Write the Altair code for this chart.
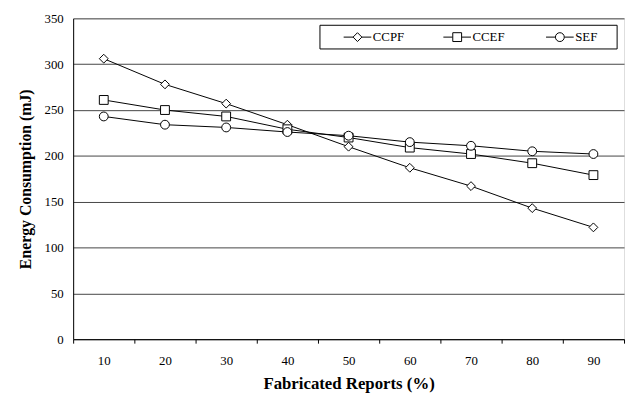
import altair as alt
import pandas as pd

reports = [10, 20, 30, 40, 50, 60, 70, 80, 90]
series_names = ["CCPF", "CCEF", "SEF"]
ccpf = [306, 278, 257, 234, 210, 187, 167, 143, 122]
ccef = [261, 250, 243, 229, 220, 209, 202, 192, 179]
sef = [243, 234, 231, 226, 222, 215, 211, 205, 202]
shapes = ["diamond", "square", "circle"]
y_ticks = [0, 50, 100, 150, 200, 250, 300, 350]

rows = []
for name, vals in zip(series_names, [ccpf, ccef, sef]):
    for r, v in zip(reports, vals):
        rows.append({"report": r, "energy": v, "series": name})
df = pd.DataFrame(rows)

FONT = "Liberation Serif"

# legend entry positions (plot coordinates): start of each "-o-" symbol
legend_starts = [274, 375, 479]
legend_y = 4.5

x_enc = alt.X(
    "report:O",
    scale=alt.Scale(type="band", paddingInner=0, paddingOuter=0),
    axis=alt.Axis(
        title="Fabricated Reports (%)",
        labelAngle=0,
        tickBand="extent",
        tickSize=4,
        tickColor="black",
        labelPadding=12,
        domainColor="black",
        labelFont=FONT,
        labelFontSize=13,
        labelColor="black",
        titleFont=FONT,
        titleFontSize=17,
        titleFontWeight="bold",
        titleColor="black",
        titlePadding=8,
        grid=False,
    ),
)
y_enc = alt.Y(
    "energy:Q",
    scale=alt.Scale(domain=[0, 350], nice=False),
    axis=alt.Axis(
        title="Energy Consumption (mJ)",
        values=y_ticks,
        grid=True,
        gridColor="#444444",
        gridOpacity=1,
        ticks=False,
        tickSize=0,
        labelPadding=10,
        domainColor="black",
        labelFont=FONT,
        labelFontSize=13,
        labelColor="black",
        titleFont=FONT,
        titleFontSize=16,
        titleFontWeight="bold",
        titleColor="black",
        titlePadding=11,
    ),
)

box = alt.Chart(pd.DataFrame({"a": [0]})).mark_rect(
    fill="white", stroke="black", strokeWidth=1
).encode(x=alt.value(250), x2=alt.value(551), y=alt.value(7), y2=alt.value(31))

layers = [box]
line_layers = []
point_layers = []
for name, shp, lx in zip(series_names, shapes, legend_starts):
    sub = df[df["series"] == name]
    line_layers.append(
        alt.Chart(sub).mark_line(strokeWidth=1).encode(
            x=x_enc,
            y=y_enc,
            order="report:O",
            color=alt.Color(
                "series:N",
                scale=alt.Scale(domain=[name], range=["black"]),
                legend=alt.Legend(
                    title=None,
                    orient="none",
                    legendX=lx - 0.5,
                    legendY=legend_y,
                    padding=0,
                    symbolType="stroke",
                    symbolSize=784,
                    symbolStrokeWidth=1,
                    symbolStrokeColor="black",
                    symbolDash=[9.5, 9],
                    labelFont=FONT,
                    labelFontSize=13,
                    labelColor="black",
                    labelOffset=1,
                ),
            ),
        )
    )
    point_layers.append(
        alt.Chart(sub).mark_point(
            shape=shp, filled=False, fill="white", fillOpacity=1,
            strokeWidth=1, size=80, opacity=1
        ).encode(
            x=x_enc,
            y=y_enc,
            color=alt.Color(
                "series:N",
                scale=alt.Scale(domain=[name], range=["black"]),
                legend=alt.Legend(
                    title=None,
                    orient="none",
                    legendX=lx + 7.5,
                    legendY=legend_y + 8,
                    padding=0,
                    symbolType=shp,
                    symbolSize=80,
                    symbolStrokeWidth=1,
                    symbolStrokeColor="black",
                    symbolFillColor="white",
                    symbolOpacity=1,
                    labelFont=FONT,
                    labelFontSize=13,
                    labelExpr="''",
                ),
            ),
        )
    )

chart = (
    alt.layer(*(layers + line_layers + point_layers))
    .resolve_scale(color="independent")
    .properties(
        width=558,
        height=325,
        autosize=alt.AutoSizeParams(type="none"),
        padding={"left": 66, "top": 8, "right": 2, "bottom": 52},
    )
    .configure_view(stroke="#888888", strokeWidth=1)
    .configure(font=FONT)
)

chart.save("out.html", embed_options={"renderer": "svg", "actions": False})
